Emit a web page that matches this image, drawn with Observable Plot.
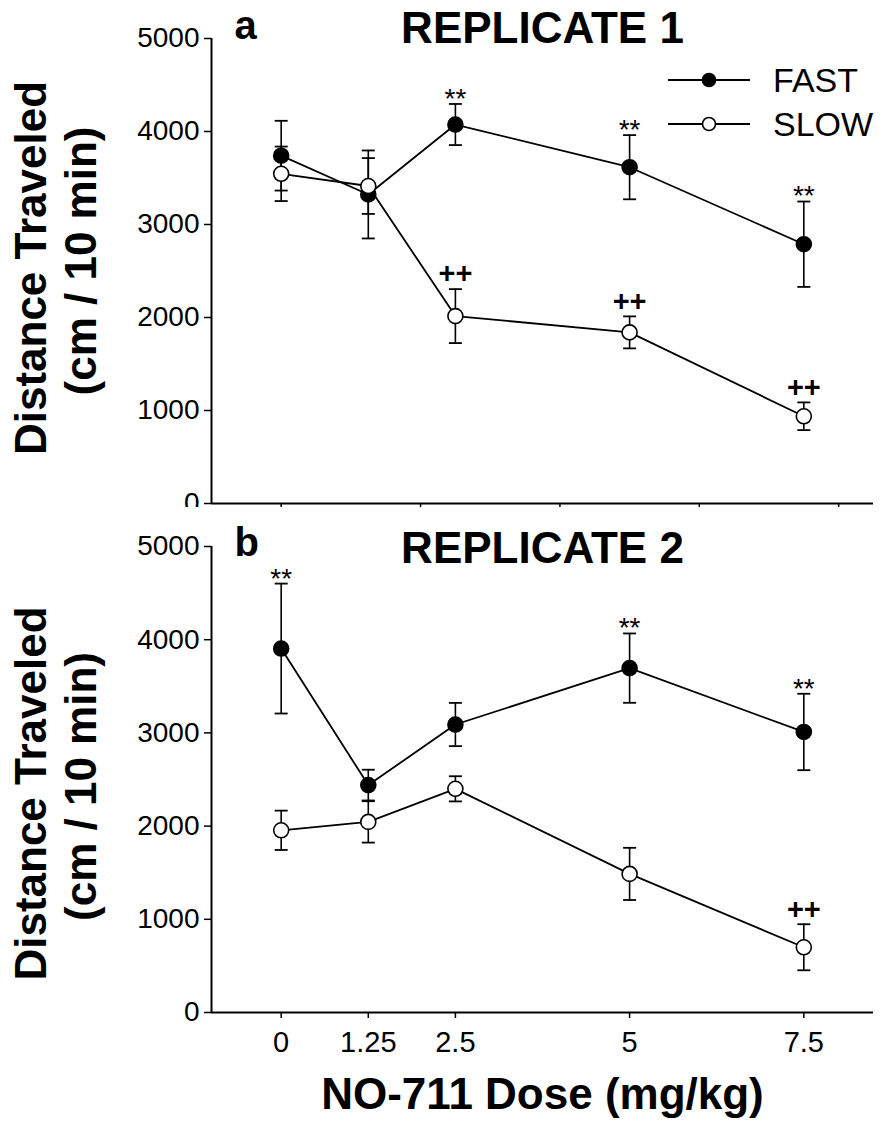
<!DOCTYPE html>
<html>
<head>
<meta charset="utf-8">
<script src="https://cdn.jsdelivr.net/npm/d3@7"></script>
<script src="https://cdn.jsdelivr.net/npm/@observablehq/plot@0.6"></script>
<style>
  body { margin: 0; background: #fff; }
  #wrap { position: relative; width: 883px; height: 1125px; font-family: "Liberation Sans", Arial, Helvetica, sans-serif; }
  #wrap svg { position: absolute; left: 0; overflow: visible; }
</style>
</head>
<body>
<div id="wrap"></div>
<script>
// ---------- data ----------
const doses = [0, 1.25, 2.5, 5, 7.5];
const doseTickLabels = ["0", "1.25", "2.5", "5", "7.5"];
const panelATicks = [0, 2, 4, 6, 8];
const yTicks = [0, 1000, 2000, 3000, 4000, 5000];
const yTickLabels = ["0", "1000", "2000", "3000", "4000", "5000"];
const seriesNames = ["FAST", "SLOW"];

// Replicate 1 (panel a)
const rep1Fast    = [3740, 3323, 4075, 3616, 2788];
const rep1FastErr = [375, 473, 221, 345, 459];
const rep1Slow    = [3545, 3414, 2015, 1840, 938];
const rep1SlowErr = [293, 300, 290, 172, 149];
const rep1FastSig = ["", "", "**", "**", "**"];
const rep1SlowSig = ["", "", "++", "++", "++"];

// Replicate 2 (panel b)
const rep2Fast    = [3905, 2440, 3090, 3695, 3010];
const rep2FastErr = [697, 165, 232, 372, 410];
const rep2Slow    = [1955, 2045, 2400, 1487, 700];
const rep2SlowErr = [211, 222, 135, 280, 247];
const rep2FastSig = ["**", "", "", "**", "**"];
const rep2SlowSig = ["", "", "", "", "++"];

const titles = ["REPLICATE 1", "REPLICATE 2"];
const letters = ["a", "b"];
const yTitle1 = "Distance Traveled";
const yTitle2 = "(cm / 10 min)";
const xTitle = "NO-711 Dose (mg/kg)";

// ---------- helpers ----------
function rows(fast, fastErr, slow, slowErr, fastSig, slowSig) {
  const out = [];
  doses.forEach((d, i) => out.push({dose: d, group: "FAST", value: fast[i], err: fastErr[i], sig: fastSig[i]}));
  doses.forEach((d, i) => out.push({dose: d, group: "SLOW", value: slow[i], err: slowErr[i], sig: slowSig[i]}));
  return out;
}
const capSymbol = { draw(ctx) { ctx.moveTo(-6.5, 0); ctx.lineTo(6.5, 0); } };
const FONT = '"Liberation Sans", Arial, Helvetica, sans-serif';

function panel(data, opts) {
  const stars = data.filter(d => d.sig === "**");
  const plus = data.filter(d => d.sig === "++");
  const marks = [
    Plot.ruleX(data, {x: "dose", y1: d => d.value - d.err, y2: d => d.value + d.err, stroke: "black", strokeWidth: 1.6}),
    Plot.dot(data, {x: "dose", y: d => d.value + d.err, symbol: capSymbol, fill: "none", stroke: "black", strokeWidth: 1.8}),
    Plot.dot(data, {x: "dose", y: d => d.value - d.err, symbol: capSymbol, fill: "none", stroke: "black", strokeWidth: 1.8}),
    Plot.line(data, {x: "dose", y: "value", z: "group", stroke: "black", strokeWidth: 1.8}),
    Plot.dot(data, {x: "dose", y: "value", r: 7.5, fill: d => d.group === "FAST" ? "black" : "white", stroke: "black", strokeWidth: 1.6}),
    Plot.text(stars, {x: "dose", y: d => d.value + d.err, text: "sig", dy: -5, lineAnchor: "middle", fontSize: 28, fill: "black"}),
    Plot.text(plus, {x: "dose", y: d => d.value + d.err, text: "sig", dy: -15, lineAnchor: "middle", fontSize: 29, fontWeight: "bold", fill: "black"}),
    Plot.ruleX([-1], {stroke: "black", strokeWidth: 2}),
    Plot.ruleY([0], {stroke: "black", strokeWidth: 2.2}),
    Plot.axisY({ticks: yTicks, tickFormat: d => yTickLabels[yTicks.indexOf(d)], tickSize: 7, tickPadding: 5, fontSize: 28, label: null, strokeWidth: 1.5}),
    opts.xLabels
      ? Plot.axisX({ticks: doses, tickFormat: d => doseTickLabels[doses.indexOf(d)], tickSize: 6, tickPadding: 13, fontSize: 29, label: null, strokeWidth: 1.5})
      : Plot.axisX({ticks: panelATicks, tickFormat: () => "", tickSize: 7, label: null, strokeWidth: 1.5}),
    Plot.text([opts.title], {text: d => d, frameAnchor: "top", textAnchor: "middle", lineAnchor: "bottom", dy: opts.titleDy, fontSize: 44, fontWeight: "bold"}),
    Plot.text([opts.letter], {text: d => d, frameAnchor: "top-left", textAnchor: "start", lineAnchor: "bottom", dx: 23, dy: opts.letterDy, fontSize: 40, fontWeight: "bold"}),
    Plot.text([yTitle1], {text: d => d, frameAnchor: "left", rotate: -90, textAnchor: "middle", lineAnchor: "middle", dx: 31 - 211, dy: opts.yTitleDy, fontSize: 44, fontWeight: "bold"}),
    Plot.text([yTitle2], {text: d => d, frameAnchor: "left", rotate: -90, textAnchor: "middle", lineAnchor: "middle", dx: 81 - 211, dy: opts.yTitleDy - 7, fontSize: 44, fontWeight: "bold"})
  ];
  if (opts.xLabels) {
    marks.push(Plot.text([xTitle], {text: d => d, frameAnchor: "bottom", textAnchor: "middle", lineAnchor: "bottom", dy: 96, fontSize: 44, fontWeight: "bold"}));
  }
  return Plot.plot({
    width: 883,
    height: opts.height,
    marginTop: opts.marginTop,
    marginBottom: opts.marginBottom,
    marginLeft: 211,
    marginRight: 10,
    x: {domain: [-1, 8.5]},
    y: {domain: [0, 5000]},
    style: {fontFamily: FONT, fontSize: "28px", color: "black", background: "white", overflow: "visible"},
    marks
  });
}

const wrap = document.getElementById("wrap");

const svgA = panel(rows(rep1Fast, rep1FastErr, rep1Slow, rep1SlowErr, rep1FastSig, rep1SlowSig), {
  title: titles[0], letter: letters[0], height: 520, marginTop: 38, marginBottom: 17,
  titleDy: 4, letterDy: 0, yTitleDy: -3, xLabels: false
});
svgA.style.top = "0px";
wrap.appendChild(svgA);

const svgB = panel(rows(rep2Fast, rep2FastErr, rep2Slow, rep2SlowErr, rep2FastSig, rep2SlowSig), {
  title: titles[1], letter: letters[1], height: 618, marginTop: 39, marginBottom: 113,
  titleDy: 16, letterDy: 9, yTitleDy: 14, xLabels: true
});
svgB.style.top = "507px";
wrap.appendChild(svgB);

// ---------- legend (top right of panel a) ----------
const legend = d3.create("svg")
  .attr("width", 223).attr("height", 100)
  .style("left", "660px").style("top", "55px")
  .style("font-family", FONT);
seriesNames.forEach((name, i) => {
  const g = legend.append("g").attr("transform", `translate(0, ${25 + i * 44})`);
  g.append("line").attr("x1", 8).attr("x2", 90).attr("stroke", "black").attr("stroke-width", 1.8);
  g.append("circle").attr("cx", 49).attr("r", 6.5)
    .attr("fill", name === "FAST" ? "black" : "white").attr("stroke", "black").attr("stroke-width", 1.6);
  g.append("text").attr("x", 113).attr("dy", "0.36em").attr("font-size", 34).text(name);
});
wrap.appendChild(legend.node());
</script>
</body>
</html>
